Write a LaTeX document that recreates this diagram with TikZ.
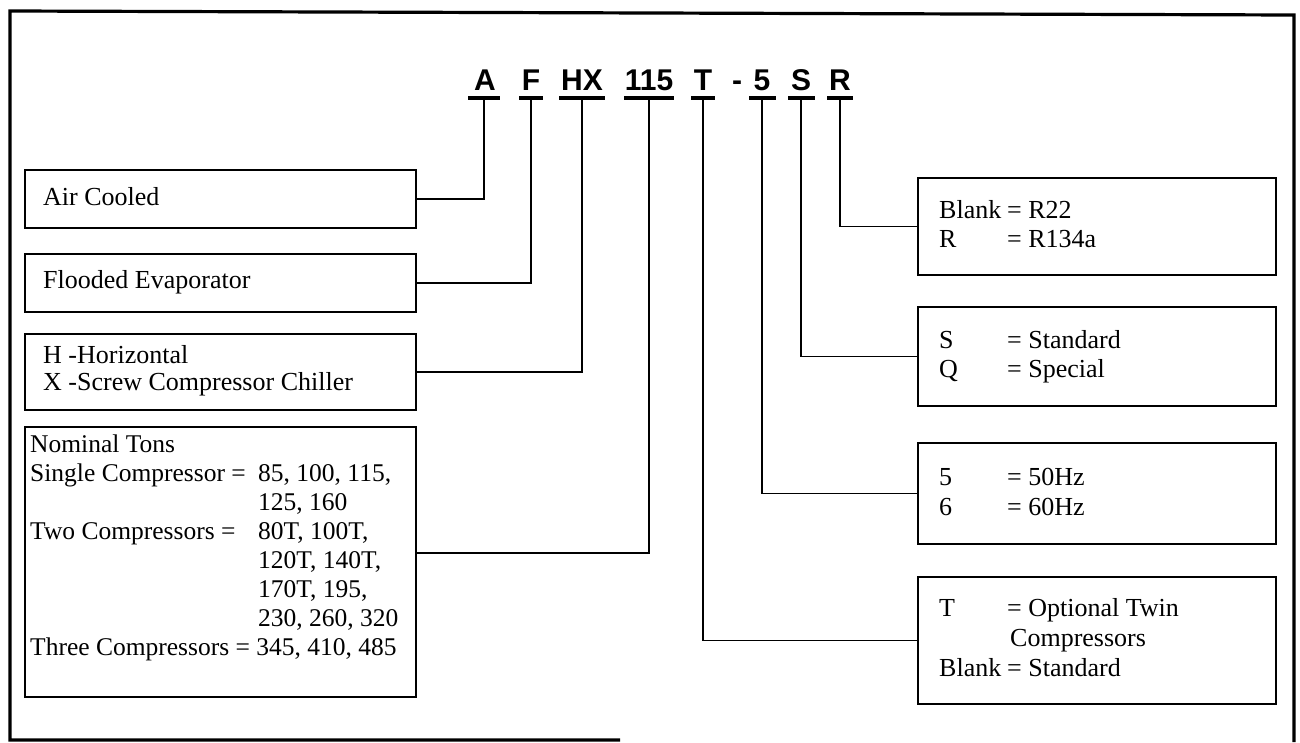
\documentclass[tikz,border=0pt]{standalone}
\usepackage{fontspec}
\setmainfont{Liberation Serif}
\newfontfamily\codeff{Liberation Sans}
\begin{document}
\begin{tikzpicture}[x=1pt,y=-1pt,
  frm/.style={line width=3.2pt},
  bx/.style={draw, line width=2.6pt, inner sep=0pt, outer sep=0pt, anchor=north west},
  cn/.style={line width=1.7pt},
  cd/.style={font=\codeff\bfseries\fontsize{30}{30}\selectfont, anchor=base, inner sep=0pt},
  ul/.style={fill=black, inner sep=0pt, outer sep=0pt, minimum height=3.4pt},
  tx/.style={font=\fontsize{26}{28}\selectfont, anchor=base west, inner sep=0pt},
  tn/.style={font=\fontsize{25.5}{28}\selectfont, anchor=base west, inner sep=0pt}]
\useasboundingbox (0,0) rectangle (1300,742);
% outer frame (bottom edge only partly printed)
\draw[frm] (620,740) -- (10,740) -- (10,11) -- (1294,15) -- (1294,742);

% code row
\node[cd] (cA) at (485,90) {A};
\node[cd] (cF) at (531,90) {F};
\node[cd] (cHX) at (582,90) {HX};
\node[cd] (c115) at (649,90) {115};
\node[cd] (cT) at (703,90) {T};
\node[cd] (cdash) at (737,90) {-};
\node[cd] (c5) at (762,90) {5};
\node[cd] (cS) at (801,90) {S};
\node[cd] (cR) at (840,90) {R};

\node[ul, minimum width=32pt] (uA) at (484,98) {};
\node[ul, minimum width=24pt] (uF) at (531,98) {};
\node[ul, minimum width=46pt] (uHX) at (582,98) {};
\node[ul, minimum width=50pt] (u115) at (649,98) {};
\node[ul, minimum width=24pt] (uT) at (703,98) {};
\node[ul, minimum width=27pt] (u5) at (762,98) {};
\node[ul, minimum width=27pt] (uS) at (801,98) {};
\node[ul, minimum width=26pt] (uR) at (840,98) {};

% left boxes
\node[bx, minimum width=391pt, minimum height=58pt] (air) at (25,170) {};
\node[bx, minimum width=391pt, minimum height=58pt] (flood) at (25,254) {};
\node[bx, minimum width=391pt, minimum height=76pt] (hx) at (25,334) {};
\node[bx, minimum width=391pt, minimum height=270pt] (nom) at (25,427) {};

\node[tx] (tAir) at (43,205) {Air Cooled};
\node[tx] (tFlood) at (43,288) {Flooded Evaporator};
\node[tx] (tH1) at (43,363) {H -Horizontal};
\node[tx] (tH2) at (43,390) {X -Screw Compressor Chiller};

\node[tn] (n1) at (30,452) {Nominal Tons};
\node[tn] (n2) at (30,481) {Single Compressor =};
\node[tn] (v2) at (258,481) {85, 100, 115,};
\node[tn] (v3) at (258,510) {125, 160};
\node[tn] (n4) at (30,539) {Two Compressors =};
\node[tn] (v4) at (258,539) {80T, 100T,};
\node[tn] (v5) at (258,568) {120T, 140T,};
\node[tn] (v6) at (258,597) {170T, 195,};
\node[tn] (v7) at (258,626) {230, 260, 320};
\node[tn] (n8) at (30,655) {Three Compressors = 345, 410, 485};

% right boxes
\node[bx, minimum width=358pt, minimum height=97pt] (rR) at (918,178) {};
\node[bx, minimum width=358pt, minimum height=99pt] (rS) at (918,307) {};
\node[bx, minimum width=358pt, minimum height=101pt] (r5) at (918,443) {};
\node[bx, minimum width=358pt, minimum height=127pt] (rT) at (918,577) {};

\node[tx] (tR1) at (939,218) {\makebox[68pt][l]{Blank}= R22};
\node[tx] (tR2) at (939,247) {\makebox[68pt][l]{R}= R134a};
\node[tx] (tS1) at (939,348) {\makebox[68pt][l]{S}= Standard};
\node[tx] (tS2) at (939,377) {\makebox[68pt][l]{Q}= Special};
\node[tx] (t51) at (939,485) {\makebox[68pt][l]{5}= 50Hz};
\node[tx] (t52) at (939,515) {\makebox[68pt][l]{6}= 60Hz};
\node[tx] (tT1) at (939,616) {\makebox[68pt][l]{T}= Optional Twin};
\node[tx] (tT2) at (1010,646) {Compressors};
\node[tx] (tT3) at (939,676) {\makebox[68pt][l]{Blank}= Standard};

% connectors
\coordinate (nomc) at (416,553);
\draw[cn] (uA.south) |- (air.east);
\draw[cn] (uF.south) |- (flood.east);
\draw[cn] (uHX.south) |- (hx.east);
\draw[cn] (u115.south) |- (nomc);
\draw[cn] (uT.south) |- (rT.west);
\draw[cn] (u5.south) |- (r5.west);
\draw[cn] (uS.south) |- (rS.west);
\draw[cn] (uR.south) |- (rR.west);
\end{tikzpicture}
\end{document}
